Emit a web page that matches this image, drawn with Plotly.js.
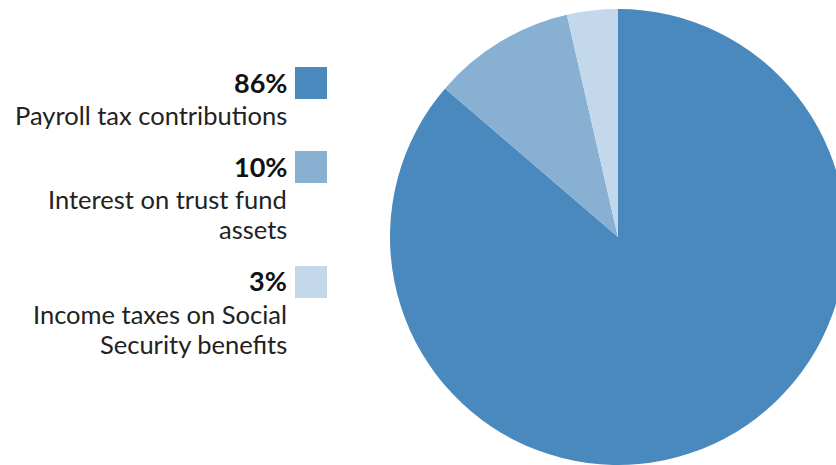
<!DOCTYPE html>
<html>
<head>
<meta charset="utf-8">
<script src="https://cdn.plot.ly/plotly-3.0.1.min.js"></script>
<style>
html,body{margin:0;padding:0;overflow:hidden;background:#fff;}
#chart{width:900px;height:465px;}
</style>
</head>
<body>
<div id="chart"></div>
<script>
// Data
var categories = ["Payroll tax contributions", "Interest on trust fund assets", "Income taxes on Social Security benefits"];
var sliceValues = [86.3, 10.1, 3.6];
var percentLabels = ["86%", "10%", "3%"];
var labelLines = [["Payroll tax contributions"], ["Interest on trust fund", "assets"], ["Income taxes on Social", "Security benefits"]];
var colors = ["#4a89bd", "#87b0d3", "#c3d8ea"];

var W = 900, H = 465;
function px(x){ return x / W; }
function py(y){ return 1 - y / H; }

var FONT = "Lato, 'Open Sans', sans-serif";
var PSIZE = 27;
var LSIZE = 25.5;
var textRight = 289;
var pctBase = [92, 176, 290];
var lineBase = [[124], [208, 238], [323, 353]];
var boxTop = [67, 151, 266];
var boxSize = 32;
var boxLeft = 295;

var annotations = [];
var shapes = [];
for (var i = 0; i < categories.length; i++) {
  annotations.push({
    xref: "paper", yref: "paper", x: px(textRight), y: py(pctBase[i] - PSIZE * 0.36),
    xanchor: "right", yanchor: "middle", showarrow: false,
    text: "<b>" + percentLabels[i] + "</b>",
    font: {family: FONT, size: PSIZE, color: "#111111"}
  });
  for (var j = 0; j < labelLines[i].length; j++) {
    annotations.push({
      xref: "paper", yref: "paper", x: px(textRight), y: py(lineBase[i][j] - LSIZE * 0.36),
      xanchor: "right", yanchor: "middle", showarrow: false,
      text: labelLines[i][j],
      font: {family: FONT, size: LSIZE, color: "#222222"}
    });
  }
  shapes.push({
    type: "rect", xref: "paper", yref: "paper",
    x0: px(boxLeft), x1: px(boxLeft + boxSize), y0: py(boxTop[i] + boxSize), y1: py(boxTop[i]),
    fillcolor: colors[i], line: {width: 0}
  });
}

var data = [{
  type: "pie",
  labels: categories,
  values: sliceValues,
  sort: false,
  direction: "clockwise",
  rotation: 0,
  textinfo: "none",
  hoverinfo: "none",
  marker: {colors: colors, line: {color: "#ffffff", width: 0}},
  domain: {x: [390 / W, 846 / W], y: [0, 456 / H]},
  showlegend: false
}];

var layout = {
  width: W, height: H,
  margin: {l: 0, r: 0, t: 0, b: 0},
  paper_bgcolor: "#ffffff",
  plot_bgcolor: "#ffffff",
  showlegend: false,
  annotations: annotations,
  shapes: shapes
};

Plotly.newPlot("chart", data, layout, {displayModeBar: false, staticPlot: true});
</script>
</body>
</html>
